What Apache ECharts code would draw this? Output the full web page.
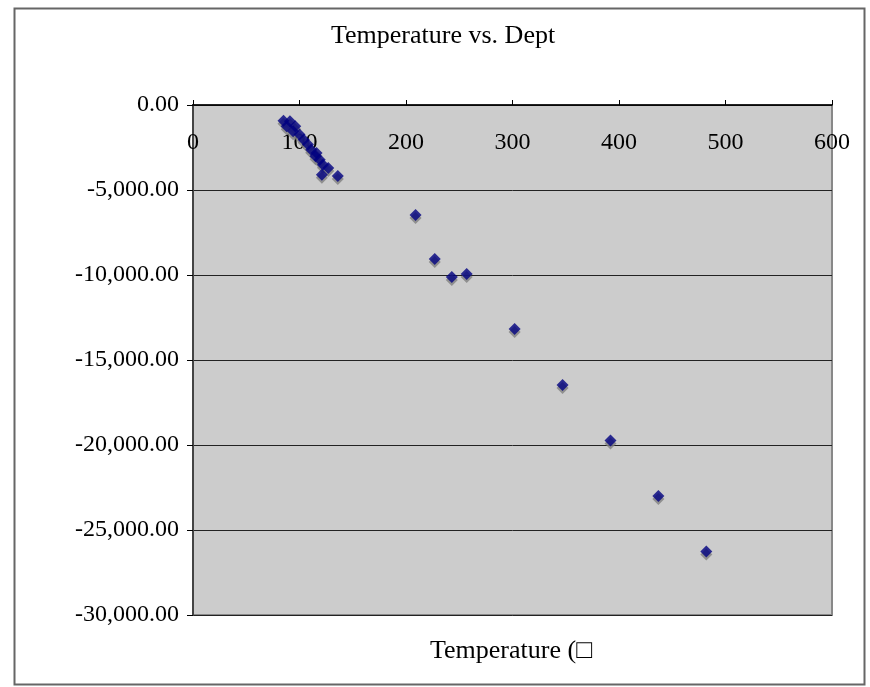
<!DOCTYPE html>
<html>
<head>
<meta charset="utf-8">
<script src="https://cdn.jsdelivr.net/npm/echarts@6/dist/echarts.min.js"></script>
<style>
html,body{margin:0;padding:0;background:#fff;}
#chart{width:870px;height:687px;}
</style>
</head>
<body>
<div id="chart"></div>
<script>
// Temperature (x) and depth (y)
const temperature = [85, 91, 88, 96, 94, 100, 104, 108, 111, 116, 115, 119, 122, 127, 121, 136,
                     209, 227, 243, 257, 302, 347, 392, 437, 482];
const depth = [-920, -960, -1250, -1250, -1550, -1740, -2040, -2330, -2630, -2820, -3020, -3220, -3510, -3700, -4100, -4180,
               -6470, -9060, -10120, -9940, -13180, -16470, -19740, -23000, -26270];
const xTicks = [0, 100, 200, 300, 400, 500, 600];
const yTicks = [0, -5000, -10000, -15000, -20000, -25000, -30000];
const chartTitle = 'Temperature vs. Dept';
const xTitle = 'Temperature (\u25A1';

const points = temperature.map((t, i) => [t, depth[i]]);
const font = '"Liberation Serif", "Times New Roman", serif';

const chart = echarts.init(document.getElementById('chart'));
chart.setOption({
  backgroundColor: '#ffffff',
  animation: false,
  graphic: [
    { type: 'rect', left: 12, top: 6, shape: { width: 850, height: 676 },
      style: { fill: 'none', stroke: '#666', lineWidth: 2 }, z: 100 },
    { type: 'text', left: 331, top: 23,
      style: { text: chartTitle, font: '26px ' + font, fill: '#000' } },
    { type: 'text', left: 430, top: 638,
      style: { text: xTitle, font: '26px ' + font, fill: '#000' } }
  ],
  grid: {
    left: 193, top: 105, right: 38, bottom: 72,
    show: true, backgroundColor: '#cccccc', borderColor: '#888', borderWidth: 2
  },
  xAxis: {
    type: 'value', position: 'top',
    min: xTicks[0], max: xTicks[xTicks.length - 1], interval: 100,
    axisLine: { show: true, onZero: false, lineStyle: { color: '#000', width: 1.5 } },
    axisTick: { show: true, inside: false, length: 5, lineStyle: { color: '#000' } },
    axisLabel: { inside: true, margin: 26, color: '#000', fontFamily: font, fontSize: 24 },
    splitLine: { show: false }
  },
  yAxis: {
    type: 'value',
    min: yTicks[yTicks.length - 1], max: yTicks[0], interval: 5000,
    axisLine: { show: true, onZero: false, lineStyle: { color: '#444', width: 2 } },
    axisTick: { show: true, inside: false, length: 6, lineStyle: { color: '#000' } },
    axisLabel: {
      margin: 14, color: '#000', fontFamily: font, fontSize: 24,
      formatter: v => (v < 0 ? '-' : '') + Math.abs(v).toLocaleString('en-US', { minimumFractionDigits: 2, maximumFractionDigits: 2 })
    },
    splitLine: { show: true, lineStyle: { color: '#222', width: 1 } }
  },
  series: [
    { type: 'scatter', data: points, symbol: 'diamond', symbolSize: 12,
      symbolOffset: [0, 3], itemStyle: { color: '#808080' }, z: 2, silent: true },
    { type: 'scatter', data: points, symbol: 'diamond', symbolSize: 12,
      itemStyle: { color: '#000080' }, z: 3 }
  ]
});
</script>
</body>
</html>
